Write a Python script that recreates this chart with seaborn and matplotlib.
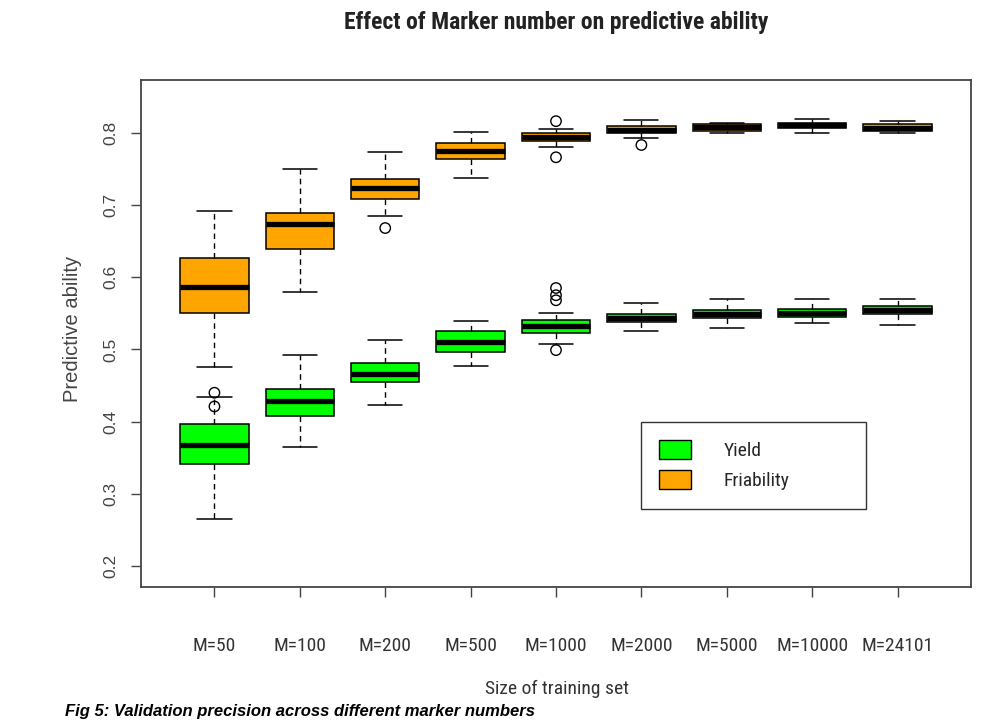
import numpy as np
import pandas as pd
import matplotlib
matplotlib.use("Agg")
import matplotlib.pyplot as plt
import seaborn as sns
from matplotlib import font_manager
from matplotlib.patches import Patch
from matplotlib.collections import PathCollection

# ---------------- data ----------------
markers = ["M=50", "M=100", "M=200", "M=500", "M=1000",
           "M=2000", "M=5000", "M=10000", "M=24101"]
traits = ["Yield", "Friability"]

# five-number summaries: lower whisker, Q1, median, Q3, upper whisker
yield_low = [0.265, 0.365, 0.423, 0.477, 0.508, 0.525, 0.529, 0.536, 0.534]
yield_q1 = [0.342, 0.408, 0.455, 0.496, 0.523, 0.538, 0.543, 0.545, 0.549]
yield_med = [0.367, 0.428, 0.466, 0.510, 0.532, 0.543, 0.549, 0.550, 0.555]
yield_q3 = [0.396, 0.445, 0.481, 0.526, 0.540, 0.549, 0.554, 0.556, 0.560]
yield_high = [0.434, 0.492, 0.513, 0.539, 0.551, 0.564, 0.570, 0.570, 0.570]

fri_low = [0.475, 0.579, 0.684, 0.737, 0.780, 0.792, 0.799, 0.800, 0.799]
fri_q1 = [0.551, 0.639, 0.708, 0.764, 0.789, 0.800, 0.802, 0.806, 0.803]
fri_med = [0.587, 0.673, 0.723, 0.774, 0.794, 0.804, 0.808, 0.810, 0.807]
fri_q3 = [0.626, 0.689, 0.736, 0.786, 0.800, 0.809, 0.812, 0.814, 0.812]
fri_high = [0.692, 0.750, 0.773, 0.801, 0.805, 0.817, 0.814, 0.819, 0.816]

yield_out_marker = ["M=50", "M=50", "M=1000", "M=1000", "M=1000", "M=1000"]
yield_out_value = [0.440, 0.421, 0.585, 0.575, 0.568, 0.499]
fri_out_marker = ["M=200", "M=1000", "M=1000", "M=2000"]
fri_out_value = [0.668, 0.816, 0.766, 0.783]

yticks = [0.2, 0.3, 0.4, 0.5, 0.6, 0.7, 0.8]
ytick_labels = ["0.2", "0.3", "0.4", "0.5", "0.6", "0.7", "0.8"]
colors = {"Yield": "#00FF00", "Friability": "#FFA500"}

# ---------------- build tables ----------------
rows = []
for trait, arrs in [("Yield", [yield_low, yield_q1, yield_med, yield_q3, yield_high]),
                    ("Friability", [fri_low, fri_q1, fri_med, fri_q3, fri_high])]:
    for i, m in enumerate(markers):
        for arr in arrs:
            rows.append((m, trait, arr[i]))
df = pd.DataFrame(rows, columns=["Markers", "Trait", "Predictive ability"])
out_df = pd.DataFrame({
    "Markers": yield_out_marker + fri_out_marker,
    "Predictive ability": yield_out_value + fri_out_value,
})

# ---------------- style ----------------
sns.set_theme(style="white")
plt.rcParams["font.family"] = ["Liberation Sans", "DejaVu Sans"]

# look for a narrow / condensed face
names = {f.name for f in font_manager.fontManager.ttflist}
narrow_family = None
for cand in ["Liberation Sans Narrow", "Arial Narrow", "DejaVu Sans Condensed",
             "Roboto Condensed", "Open Sans Condensed"]:
    if cand in names:
        narrow_family = cand
        break
has_dejavu_cond = any(f.name == "DejaVu Sans" and str(f.stretch) in ("condensed", "semi-condensed")
                      for f in font_manager.fontManager.ttflist)


def nfont(size, weight="normal"):
    if narrow_family is not None:
        return font_manager.FontProperties(family=[narrow_family, "DejaVu Sans"], size=size, weight=weight)
    if has_dejavu_cond:
        return font_manager.FontProperties(family="DejaVu Sans", stretch="condensed", size=size * 0.95, weight=weight)
    return font_manager.FontProperties(family=["Liberation Sans", "DejaVu Sans"], size=size * 0.86, weight=weight)


fig = plt.figure(figsize=(9.97, 7.21), dpi=100)
ax = fig.add_axes([141 / 997, 1 - 587 / 721, 830 / 997, 507 / 721])

sns.boxplot(
    data=df, x="Markers", y="Predictive ability", hue="Trait",
    order=markers, hue_order=traits, palette=colors, dodge=False,
    saturation=1, width=0.8, whis=(0, 100), showfliers=False, linecolor="black",
    linewidth=1.1, legend=False, ax=ax,
    medianprops=dict(linewidth=3.8, color="black", solid_capstyle="butt"),
    whiskerprops=dict(linestyle=(0, (4, 3)), linewidth=1.0),
    capprops=dict(linestyle="-", linewidth=1.1),
)

n_before = len(ax.collections)
sns.stripplot(
    data=out_df, x="Markers", y="Predictive ability", order=markers,
    jitter=False, marker="o", size=7.5, color="black", edgecolor="black",
    linewidth=1.0, ax=ax, zorder=5,
)
for coll in ax.collections[n_before:]:
    if isinstance(coll, PathCollection):
        coll.set_facecolor("none")
        coll.set_edgecolor("black")

ax.set_xlim(-0.86, 8.86)
ax.set_ylim(0.171, 0.873)

for s in ax.spines.values():
    s.set_color("#444444")
    s.set_linewidth(1.3)
    s.set_visible(True)

ax.set_xticks(range(len(markers)))
ax.set_xticklabels(markers, color="#333333")
for lab in ax.get_xticklabels():
    lab.set_fontproperties(nfont(14))
ax.set_yticks(yticks)
ax.set_yticklabels(ytick_labels, rotation=90, va="center", fontsize=12.5, color="#444444")
ax.tick_params(axis="both", direction="out", length=7, width=1, color="#444444",
               bottom=True, left=True)
ax.tick_params(axis="x", pad=29)
ax.tick_params(axis="y", pad=9)
ax.set_xlabel("")
ax.set_ylabel("")

# legend
handles = [Patch(facecolor=colors[t], edgecolor="black", linewidth=1.0, label=t) for t in traits]
leg = ax.legend(
    handles=handles, loc="upper left",
    bbox_to_anchor=(500 / 830, (587 - 422) / 507, 225 / 830, 0.0),
    mode="expand", frameon=True, fancybox=False, edgecolor="black",
    borderpad=0.95, handlelength=1.6, handleheight=1.1, handletextpad=1.7,
    labelspacing=0.5, borderaxespad=0,
    prop=nfont(14),
)
leg.get_frame().set_linewidth(1.0)

# texts
fig.text(556 / 997, 1 - 23 / 721, "Effect of Marker number on predictive ability",
         ha="center", va="center", fontproperties=nfont(17, "bold"), color="#222222")
fig.text(72 / 997, 1 - 329 / 721, "Predictive ability", rotation=90,
         ha="center", va="center", fontsize=14.5, color="#444444")
fig.text(557 / 997, 1 - 689 / 721, "Size of training set", ha="center", va="center",
         fontproperties=nfont(14), color="#333333")
fig.text(65 / 997, 2 / 721, "Fig 5: Validation precision across different marker numbers",
         ha="left", va="bottom", fontsize=12, fontweight="bold", style="italic",
         color="black")

fig.savefig("out.png", dpi=100)
